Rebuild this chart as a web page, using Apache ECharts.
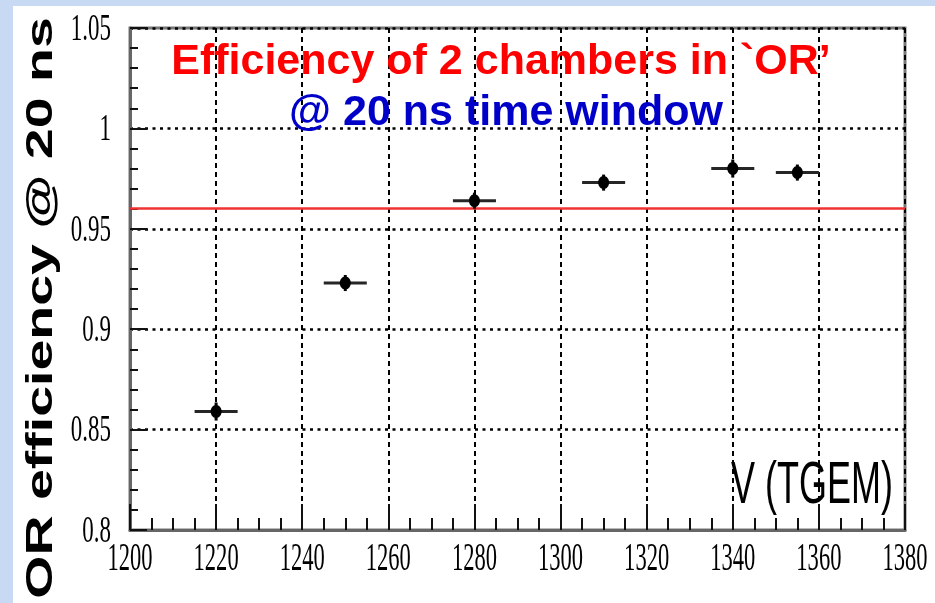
<!DOCTYPE html>
<html>
<head>
<meta charset="utf-8">
<script src="https://cdn.jsdelivr.net/npm/echarts@6/dist/echarts.min.js"></script>
<style>
  html, body { margin: 0; padding: 0; background: #c8daf3; }
  #chart { width: 935px; height: 603px; }
</style>
</head>
<body>
<div id="chart"></div>
<script>
// Measured OR efficiency of two chambers vs. TGEM voltage (20 ns window)
const voltages     = [1220, 1250, 1280, 1310, 1340, 1355];
const efficiencies = [0.859, 0.923, 0.964, 0.973, 0.980, 0.978];
const voltageErr   = [5, 5, 5, 5, 5, 5];
const efficiencyErr = [0.0045, 0.0040, 0.0040, 0.0040, 0.0045, 0.0040];

// Required efficiency level
const thresholdEff = 0.96;

// Axis ranges and tick labels
const xTickLabels = ['1200', '1220', '1240', '1260', '1280', '1300', '1320', '1340', '1360', '1380'];
const yTickLabels = ['0.8', '0.85', '0.9', '0.95', '1', '1.05'];
const xMin = 1200, xMax = 1380, xStep = 20;
const yMin = 0.8, yMax = 1.05, yStep = 0.05;

const titleLine1 = 'Efficiency of 2 chambers in `OR\u2019';
const titleLine2 = '@ 20 ns time window';
const yAxisTitle = 'OR efficiency @ 20 ns';
const xAxisTitle = 'V (TGEM)';

const pointData = voltages.map((v, i) => [v, efficiencies[i], voltageErr[i], efficiencyErr[i]]);

const chart = echarts.init(document.getElementById('chart'), null, { renderer: 'canvas' });

const sansBold = '"Liberation Sans", Arial, Helvetica, sans-serif';
const tickFont = '"Liberation Serif", "Times New Roman", serif';

chart.setOption({
  backgroundColor: '#c8daf3',
  animation: false,
  grid: {
    left: 130, right: 30, top: 28, bottom: 73,
    show: true, borderColor: '#767676', borderWidth: 3, backgroundColor: 'transparent'
  },
  xAxis: {
    type: 'value', min: xMin, max: xMax, interval: xStep,
    axisLine: { show: true, lineStyle: { color: '#666', width: 3 } },
    axisTick: { show: true, inside: true, length: 26, lineStyle: { color: '#111', width: 2 } },
    minorTick: { show: true, splitNumber: 4, length: 12, lineStyle: { color: '#111', width: 2 } },
    splitLine: { show: true, lineStyle: { color: '#000', width: 2, type: [5, 4] } },
    axisLabel: { show: false }
  },
  yAxis: {
    type: 'value', min: yMin, max: yMax, interval: yStep,
    axisLine: { show: true, lineStyle: { color: '#666', width: 3 } },
    axisTick: { show: true, inside: true, length: 17, lineStyle: { color: '#111', width: 2 } },
    minorTick: { show: true, splitNumber: 5, length: 8, lineStyle: { color: '#111', width: 2 } },
    splitLine: { show: true, lineStyle: { color: '#000', width: 2.5, type: [3, 4.5] } },
    axisLabel: { show: false }
  },
  graphic: [
    { type: 'rect', z: -10, silent: true, shape: { x: 13, y: 6, width: 922, height: 597 }, style: { fill: '#ffffff' } },
    { type: 'text', z: 10, x: 501, y: 62,
      style: { text: titleLine1, fill: '#ff0000', fontFamily: sansBold, fontWeight: 'bold', fontSize: 43, align: 'center', verticalAlign: 'middle' } },
    { type: 'text', z: 10, x: 506, y: 113,
      style: { text: titleLine2, fill: '#0000c8', fontFamily: sansBold, fontWeight: 'bold', fontSize: 43, align: 'center', verticalAlign: 'middle' } },
    { type: 'text', z: 10, x: 41.5, y: 308, rotation: Math.PI / 2, scaleX: 1.5,
      style: { text: yAxisTitle, fill: '#000', fontFamily: sansBold, fontWeight: 'bold', fontSize: 37, align: 'center', verticalAlign: 'middle' } },
    { type: 'text', z: 10, x: 893, y: 486, scaleX: 0.6,
      style: { text: xAxisTitle, fill: '#000', fontFamily: '"Liberation Sans", Arial, sans-serif', fontSize: 60, align: 'right', verticalAlign: 'middle' } }
  ],
  series: [
    {
      // data points with horizontal and vertical error bars
      type: 'custom',
      data: pointData,
      z: 5,
      renderItem: function (params, api) {
        const x = api.value(0), y = api.value(1), ex = api.value(2), ey = api.value(3);
        const c = api.coord([x, y]);
        const l = api.coord([x - ex, y]);
        const r = api.coord([x + ex, y]);
        const t = api.coord([x, y + ey]);
        const b = api.coord([x, y - ey]);
        return {
          type: 'group',
          children: [
            { type: 'line', shape: { x1: l[0], y1: l[1], x2: r[0], y2: r[1] }, style: { stroke: '#262626', lineWidth: 3 } },
            { type: 'line', shape: { x1: t[0], y1: t[1], x2: b[0], y2: b[1] }, style: { stroke: '#000', lineWidth: 3 } },
            { type: 'ellipse', shape: { cx: c[0], cy: c[1], rx: 5.5, ry: 6.5 }, style: { fill: '#000' } }
          ]
        };
      },
      markLine: {
        silent: true, symbol: 'none', label: { show: false },
        lineStyle: { color: '#f03232', width: 2.5, type: 'solid' },
        data: [{ yAxis: thresholdEff }]
      }
    },
    {
      // x tick labels
      type: 'custom',
      data: xTickLabels.map(s => [Number(s), yMin]),
      z: 6,
      renderItem: function (params, api) {
        const p = api.coord([api.value(0), api.value(1)]);
        return {
          type: 'text', x: p[0], y: p[1] + 29, scaleX: 0.55,
          style: { text: xTickLabels[params.dataIndex], fill: '#000', fontFamily: tickFont, fontSize: 41, align: 'center', verticalAlign: 'middle' }
        };
      }
    },
    {
      // y tick labels
      type: 'custom',
      data: yTickLabels.map(s => [xMin, Number(s)]),
      z: 6,
      renderItem: function (params, api) {
        const p = api.coord([api.value(0), api.value(1)]);
        return {
          type: 'text', x: p[0] - 19, y: p[1] + 2, scaleX: 0.62,
          style: { text: yTickLabels[params.dataIndex], fill: '#000', fontFamily: tickFont, fontSize: 37, align: 'right', verticalAlign: 'middle' }
        };
      }
    }
  ]
});
</script>
</body>
</html>
